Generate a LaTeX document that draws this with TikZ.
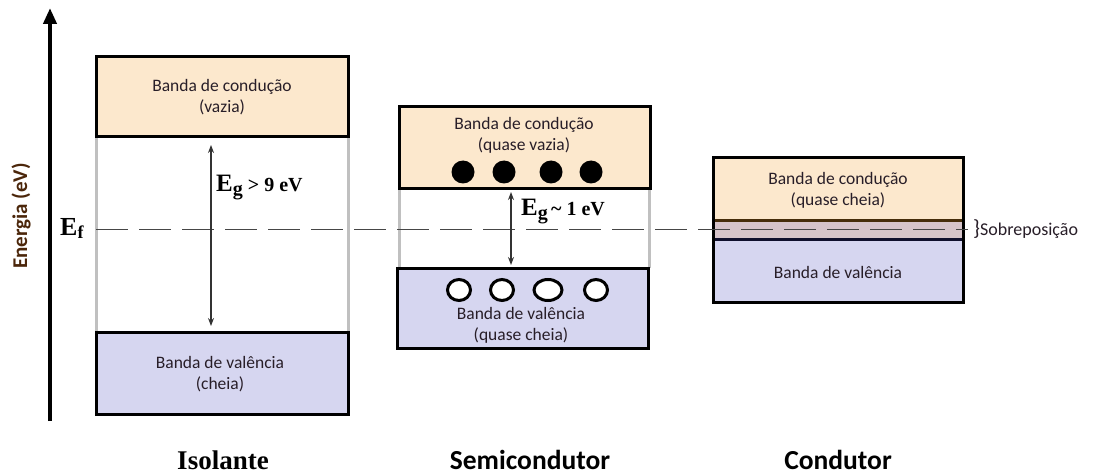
\documentclass[tikz,border=0pt]{standalone}
\usepackage{fontspec}
\setmainfont{Carlito}
\newfontfamily\tnr{Liberation Serif}
\usetikzlibrary{arrows.meta,shapes.geometric}
\definecolor{condfill}{RGB}{252,232,205}
\definecolor{valfill}{RGB}{214,214,240}
\definecolor{overfill}{RGB}{214,196,202}
\definecolor{gapgray}{RGB}{192,192,192}
\definecolor{dashgray}{RGB}{70,70,70}
\definecolor{brownline}{RGB}{70,45,10}
\definecolor{navyline}{RGB}{15,15,45}
\definecolor{txt}{RGB}{40,30,40}
\begin{document}
\begin{tikzpicture}[x=1pt,y=-1pt,
  band/.style={draw=black, line width=3pt, inner sep=0pt},
  cband/.style={band, fill=condfill},
  vband/.style={band, fill=valfill},
  btext/.style={font=\fontsize{17.5}{21}\selectfont, text=txt, align=center, inner sep=0pt},
  side/.style={draw=gapgray, line width=3pt},
  egarrow/.style={draw=black!80, line width=1.3pt, {Stealth[length=8pt,width=6pt]}-{Stealth[length=8pt,width=6pt]}},
  title/.style={font=\bfseries\fontsize{27.5}{30}\selectfont, anchor=base, inner sep=0pt},
  electron/.style={circle, fill=black, minimum size=23pt, inner sep=0pt},
  hole/.style={ellipse, draw=black, line width=3pt, fill=white, minimum height=21pt, inner sep=0pt}
]
\useasboundingbox (0,0) rectangle (1093,476);

% energy axis
\coordinate (axb) at (50,421);
\coordinate (axt) at (50,8);
\draw[line width=4pt, -{Triangle[length=16pt,width=13pt]}] (axb) -- (axt);
\node[rotate=90, font=\bfseries\fontsize{21}{23}\selectfont, text={rgb,255:red,75;green,38;blue,10}, inner sep=0pt] (en) at (21,216) {Energia (eV)};
\node[anchor=base west, inner sep=0pt] (ef) at (60,235) {\tnr\bfseries\fontsize{26}{26}\selectfont E\raisebox{-3pt}{\fontsize{18}{18}\selectfont f}};

% ===== Isolante =====
\draw[side] (96,137) -- (96,332);
\draw[side] (348,137) -- (348,332);
\node[cband, minimum width=252pt, minimum height=80pt] (ic) at (222,97) {};
\node[vband, minimum width=252pt, minimum height=82pt] (iv) at (222,373) {};
\node[btext] (ict) at (222,97) {Banda de condução\\(vazia)};
\node[btext] (ivt) at (220,374) {Banda de valência\\(cheia)};

% ===== Semicondutor =====
\draw[side] (399,189) -- (399,268);
\draw[side] (649,189) -- (649,268);
\node[cband, minimum width=251pt, minimum height=82pt] (sc) at (524.5,148) {};
\node[vband, minimum width=251pt, minimum height=80pt] (sv) at (522.5,308) {};
\node[btext] (sct) at (524,135) {Banda de condução\\(quase vazia)};
\node[btext] (svt) at (521,325) {Banda de valência\\(quase cheia)};
\node[electron] (e1) at (463,172) {};
\node[electron] (e2) at (504,172) {};
\node[electron] (e3) at (551,172) {};
\node[electron] (e4) at (591,172) {};
\node[hole, minimum width=23pt] (h1) at (459,290) {};
\node[hole, minimum width=23pt] (h2) at (502,290) {};
\node[hole, minimum width=28pt] (h3) at (548,290) {};
\node[hole, minimum width=23pt] (h4) at (596,290) {};

% ===== Condutor =====
\node[inner sep=0pt, minimum width=250pt, minimum height=63pt, fill=condfill] (cc) at (838,189.5) {};
\node[inner sep=0pt, minimum width=250pt, minimum height=18pt, fill=overfill] (co) at (838,230) {};
\node[inner sep=0pt, minimum width=250pt, minimum height=63pt, fill=valfill] (cv) at (838,270.5) {};
\draw[brownline, line width=3pt] (co.north west) -- (co.north east);
\draw[navyline, line width=3pt] (co.south west) -- (co.south east);
\node[draw=black, line width=3pt, minimum width=250pt, minimum height=144pt, inner sep=0pt] (cb) at (838,230) {};
\node[btext] (cct) at (838,190) {Banda de condução\\(quase cheia)};
\node[btext] (cvt) at (838,272) {Banda de valência};

% Fermi level
\coordinate (fl) at (96,229);
\coordinate (fr) at (968,229);
\draw[dashgray, line width=1pt, dash pattern=on 32pt off 11pt] (fl) -- (fr);

\node[anchor=west, inner sep=0pt, text=txt] (br) at (973,229) {{\fontsize{22}{22}\selectfont\}}\fontsize{18}{20}\selectfont Sobreposição};

% gap arrows
\coordinate (i1) at (211,145);
\coordinate (i2) at (211,326);
\draw[egarrow] (i1) -- (i2);
\node[anchor=base west, inner sep=0pt] (ieg) at (216,192) {\tnr\bfseries\fontsize{25}{25}\selectfont E\raisebox{-4pt}{\fontsize{20}{20}\selectfont g}\fontsize{20}{20}\selectfont\ > 9 eV};
\coordinate (s1) at (511,192);
\coordinate (s2) at (511,265);
\draw[egarrow] (s1) -- (s2);
\node[anchor=base west, inner sep=0pt] (seg) at (521,215) {\tnr\bfseries\fontsize{25}{25}\selectfont E\raisebox{-4pt}{\fontsize{20}{20}\selectfont g}\fontsize{20}{20}\selectfont\,\textasciitilde\ 1 eV};

% titles
\node[title, font=\tnr\bfseries\fontsize{27}{30}\selectfont] (tiso) at (223,469) {Isolante};
\node[title] (tsemi) at (530,469) {Semicondutor};
\node[title] (tcond) at (838,469) {Condutor};
\end{tikzpicture}
\end{document}
